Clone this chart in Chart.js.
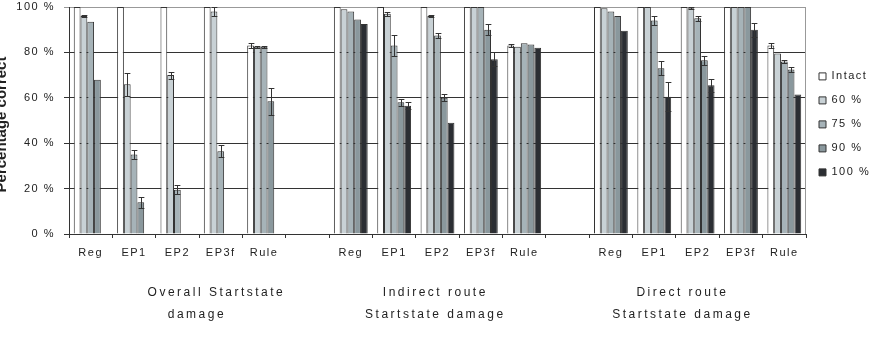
<!DOCTYPE html>
<html>
<head>
<meta charset="utf-8">
<script src="https://cdn.jsdelivr.net/npm/chart.js@4.4.0/dist/chart.umd.min.js"></script>
<style>
  html, body { margin: 0; padding: 0; background: #fff; }
  #wrap { position: relative; width: 876px; height: 338px; }
</style>
</head>
<body>
<div id="wrap"><canvas id="damage-chart"></canvas></div>
<script>
const categories = ["Reg", "EP1", "EP2", "EP3f", "Rule", "",
                    "Reg", "EP1", "EP2", "EP3f", "Rule", "",
                    "Reg", "EP1", "EP2", "EP3f", "Rule"];
const seriesNames = ["Intact", "60 %", "75 %", "90 %", "100 %"];
const groupNames = [["Overall Startstate", "damage"],
                    ["Indirect route", "Startstate damage"],
                    ["Direct route", "Startstate damage"]];
const yTicks = [0, 20, 40, 60, 80, 100];

// percentage correct per damage level
const intact  = [100, 100, 100, 100, 83, null, 100, 100, 100, 100, 83, null, 100, 100, 100, 100, 83];
const dmg60   = [96, 66, 70, 98, 82.5, null, 99, 97, 96, 100, 82.5, null, 99.5, 100, 99.5, 100, 79.5];
const dmg75   = [93.5, 35, 19.5, 36.5, 82.5, null, 98, 83, 87.5, 100, 84, null, 98, 94, 95, 100, 76];
const dmg90   = [68, 14, null, null, 58.5, null, 94.5, 58, 60, 90, 83.5, null, 96, 73, 76.5, 100, 72.5];
const dmg100  = [null, null, null, null, null, null, 92.5, 56.5, 49, 77, 82, null, 89.5, 60.5, 65.5, 90, 61.5];

// error bar half-lengths
const errIntact = [0, 0, 0, 0, 1, 0, 0, 0, 0, 0, 0.7, 0, 0, 0, 0, 0, 1];
const err60     = [0.5, 5, 1.5, 2, 0.5, 0, 0, 1, 0.5, 0, 0, 0, 0, 0, 0.5, 0, 0];
const err75     = [0, 2, 2, 2.5, 0.5, 0, 0, 4.5, 1, 0, 0, 0, 0, 2, 1, 0, 0.5];
const err90     = [0, 2.5, 0, 0, 6, 0, 0, 1.5, 1.5, 2.5, 0, 0, 0, 3, 2, 0, 1];
const err100    = [0, 0, 0, 0, 0, 0, 0, 1.5, 0, 3, 0, 0, 0, 6.5, 3, 3, 0];

const fills = ["#ffffff", "#c8d1d5", "#a6b3b8", "#8a989d", "#2b2e33"];
const values = [intact, dmg60, dmg75, dmg90, dmg100];
const errors = [errIntact, err60, err75, err90, err100];

const FONT = "'Liberation Sans', Arial, sans-serif";
Chart.defaults.font.family = FONT;
Chart.defaults.color = "#222";

const spacing = {
  id: "spacing",
  beforeUpdate(chart) { chart.ctx.letterSpacing = "1.5px"; },
  beforeDraw(chart) { chart.ctx.letterSpacing = "1.5px"; },
};

const frame = {
  id: "frame",
  beforeDatasetsDraw(chart) {
    const { ctx, chartArea } = chart;
    ctx.save();
    ctx.strokeStyle = "#999";
    ctx.lineWidth = 1;
    ctx.beginPath();
    ctx.moveTo(Math.round(chartArea.right) - 0.5, chartArea.top);
    ctx.lineTo(Math.round(chartArea.right) - 0.5, chartArea.bottom);
    ctx.stroke();
    ctx.restore();
  },
};

const errorBars = {
  id: "errorBars",
  afterDatasetsDraw(chart) {
    const { ctx, chartArea, scales: { y } } = chart;
    ctx.save();
    ctx.beginPath();
    ctx.rect(chartArea.left, chartArea.top - 1, chartArea.width, chartArea.height + 1);
    ctx.clip();
    ctx.strokeStyle = "#333";
    ctx.lineWidth = 1;
    chart.data.datasets.forEach((ds, i) => {
      const meta = chart.getDatasetMeta(i);
      ds.errors.forEach((e, j) => {
        const v = ds.data[j];
        if (!e || v == null) return;
        const bar = meta.data[j];
        const x = Math.round(bar.x) + 0.5;
        const hw = bar.width / 2 - 0.5;
        const top = Math.round(y.getPixelForValue(v + e)) + 0.5;
        const bot = Math.round(y.getPixelForValue(v - e)) + 0.5;
        ctx.beginPath();
        ctx.moveTo(x, top); ctx.lineTo(x, bot);
        ctx.moveTo(x - hw, top); ctx.lineTo(x + hw, top);
        ctx.moveTo(x - hw, bot); ctx.lineTo(x + hw, bot);
        ctx.stroke();
      });
    });
    ctx.restore();
  },
};

const groupLabels = {
  id: "groupLabels",
  afterDraw(chart) {
    const { ctx, chartArea, scales: { x } } = chart;
    const centers = [[2.9, 2.45], [7.95, 7.95], [13.65, 13.65]];
    ctx.save();
    ctx.font = "12px " + FONT;
    ctx.letterSpacing = "2.5px";
    ctx.fillStyle = "#222";
    ctx.textAlign = "center";
    ctx.textBaseline = "middle";
    groupNames.forEach((lines, g) => {
      lines.forEach((text, k) => {
        ctx.fillText(text, x.getPixelForValue(centers[g][k]), chartArea.bottom + 59 + k * 22);
      });
    });
    // y axis title, partly cut by the left edge as in the original
    ctx.letterSpacing = "0px";
    ctx.font = "bold 15px " + FONT;
    ctx.translate(2, (chartArea.top + chartArea.bottom) / 2 + 4);
    ctx.rotate(-Math.PI / 2);
    ctx.fillText("Percentage correct", 0, 0);
    ctx.restore();
  },
};

const ctx = document.getElementById("damage-chart").getContext("2d");
new Chart(ctx, {
  type: "bar",
  data: {
    labels: categories,
    datasets: seriesNames.map((name, i) => ({
      label: name,
      data: values[i],
      errors: errors[i],
      backgroundColor: fills[i],
      borderColor: "#333",
      borderWidth: 1,
      categoryPercentage: 0.78,
      barPercentage: 1.0,
    })),
  },
  options: {
    responsive: true,
    maintainAspectRatio: false,
    animation: false,
    layout: { padding: { top: 0, right: 0, left: 0, bottom: 0 } },
    plugins: {
      tooltip: { enabled: false },
      legend: {
        position: "right",
        fullSize: false,
        maxWidth: 70,
        // empty title only nudges the items down a little
        title: { display: true, text: "", padding: 0, font: { size: 6.5 } },
        labels: {
          boxWidth: 7,
          boxHeight: 7,
          padding: 13,
          color: "#222",
          font: { size: 11 },
        },
      },
    },
    scales: {
      x: {
        grid: { offset: true, drawOnChartArea: false, tickLength: 4, color: "#333" },
        border: { color: "#333" },
        ticks: { font: { size: 11 }, padding: 8, maxRotation: 0, autoSkip: false, color: "#222" },
        afterFit(scale) { scale.height = 104; },
      },
      y: {
        min: 0,
        max: 100,
        afterBuildTicks(scale) { scale.ticks = yTicks.map((v) => ({ value: v })); },
        ticks: { callback: (v) => v + " %", font: { size: 11 }, padding: 9, color: "#222" },
        grid: {
          color: (c) => (c.tick && c.tick.value === 100 ? "#999" : "#333"),
          tickLength: 5,
        },
        border: { color: "#333" },
        afterFit(scale) { scale.width = 69; scale.paddingTop = 7; },
      },
    },
  },
  plugins: [spacing, frame, errorBars, groupLabels],
});
</script>
</body>
</html>
